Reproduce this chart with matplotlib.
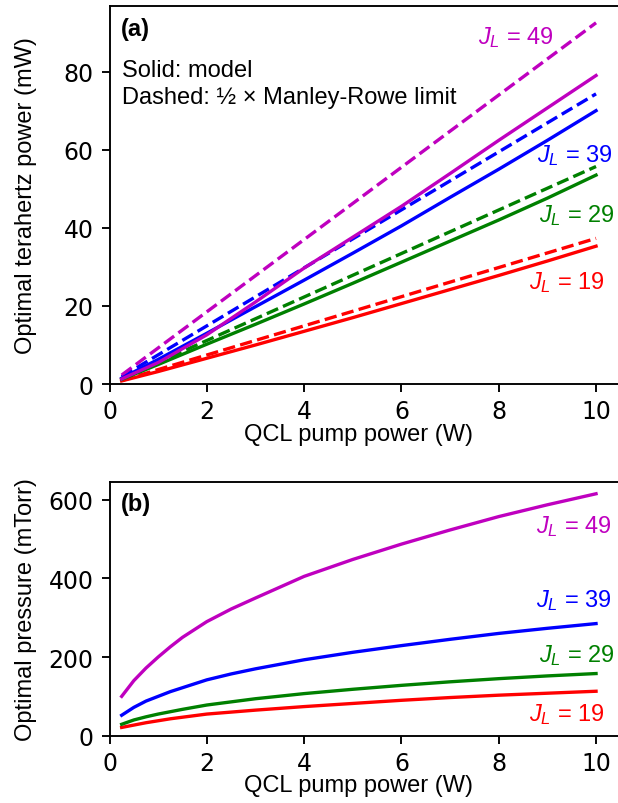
import numpy as np
import matplotlib
matplotlib.use('Agg')
import matplotlib.pyplot as plt

plt.rcParams['mathtext.fontset'] = 'custom'
plt.rcParams['mathtext.rm'] = 'Liberation Sans'
plt.rcParams['mathtext.it'] = 'Liberation Sans:italic'
plt.rcParams['font.size'] = 17
plt.rcParams['axes.linewidth'] = 1.36
plt.rcParams['xtick.major.size'] = 6
plt.rcParams['ytick.major.size'] = 6
plt.rcParams['xtick.major.width'] = 1.36
plt.rcParams['ytick.major.width'] = 1.36
plt.rcParams['xtick.major.pad'] = 5
plt.rcParams['ytick.major.pad'] = 5.5

# ---- data ----
pump = [0.25, 1, 2, 3, 4, 5, 6, 7, 8, 9, 10]  # QCL pump power (W)

# (a) optimal THz power (mW), solid = model
thz_19 = [0.8, 3.2, 6.6, 10.0, 13.5, 17.0, 20.6, 24.2, 27.8, 31.5, 35.3]
thz_29 = [1.2, 5.0, 10.2, 15.3, 20.5, 25.8, 31.2, 36.6, 42.0, 47.6, 53.5]
thz_39 = [1.5, 6.3, 13.0, 19.8, 26.6, 33.5, 40.5, 47.8, 55.0, 62.4, 70.0]
thz_49 = [1.3, 5.5, 12.6, 21.0, 29.7, 37.6, 45.5, 53.9, 62.4, 70.7, 79.0]

# dashed = 1/2 x Manley-Rowe limit
mr_pump = [0.25, 10]
mr_19 = [0.9, 37.3]
mr_29 = [1.4, 55.7]
mr_39 = [1.9, 74.3]
mr_49 = [2.3, 92.5]

# (b) optimal pressure (mTorr)
pump_b = [0.25, 0.5, 0.75, 1, 1.25, 1.5, 2, 2.5, 3, 4, 5, 6, 7, 8, 9, 10]
p_19 = [21, 27, 33, 38, 43, 47, 55, 60, 65, 74, 82, 90, 97, 103, 108, 113]
p_29 = [29, 40, 48, 55, 61, 67, 78, 86, 94, 107, 118, 128, 137, 145, 152, 158]
p_39 = [52, 72, 88, 100, 112, 122, 142, 157, 170, 193, 212, 229, 245, 260, 273, 285]
p_49 = [100, 140, 172, 200, 226, 250, 290, 322, 350, 405, 448, 487, 523, 557, 587, 615]

labels = ['19', '29', '39', '49']
colors = ['r', 'g', 'b', 'm']
lw = 2.4
sans = 'Liberation Sans'

fig = plt.figure(figsize=(6.18, 8.04), dpi=100)

'''
(a) terahertz power
'''
ax1 = fig.add_axes([0.1772, 0.5211, 0.8345, 0.4702])
solid = [thz_19, thz_29, thz_39, thz_49]
dashed = [mr_19, mr_29, mr_39, mr_49]
for i in range(4):
    ax1.plot(mr_pump, dashed[i], color=colors[i], ls='--', lw=lw)
for i in range(4):
    ax1.plot(pump, solid[i], color=colors[i], lw=lw)

ax1.set_xlim(0, 10.6)
ax1.set_ylim(0, 96.8)
ax1.set_yticks([0, 20, 40, 60, 80])
ax1.set_xticks([0, 2, 4, 6, 8, 10])
ax1.set_xlabel('QCL pump power (W)', fontsize=17, family=sans)
ax1.set_ylabel('Optimal terahertz power (mW)', fontsize=17, family=sans)
ax1.xaxis.set_label_coords(0.482, -0.103)
ax1.yaxis.set_label_coords(-0.14, 0.5)

ax1.text(0.022, 0.97, '(a)', transform=ax1.transAxes, fontsize=17,
         fontweight='bold', family=sans, va='top')
ax1.text(0.024, 0.815, 'Solid: model', transform=ax1.transAxes, fontsize=17,
         family=sans, va='baseline')
ax1.text(0.024, 0.743, 'Dashed: \u00bd \u00d7 Manley-Rowe limit', transform=ax1.transAxes,
         fontsize=17, family=sans, va='baseline')

lab_a = [(10.18, 24.5), (10.39, 41.6), (10.35, 57.0), (9.13, 87.3)]
for i in range(4):
    ax1.text(lab_a[i][0], lab_a[i][1], '$J_L$ = ' + labels[i], color=colors[i],
             fontsize=17, family=sans, ha='right', va='baseline')

'''
(b) pressure
'''
ax2 = fig.add_axes([0.1772, 0.0837, 0.8345, 0.3156])
press = [p_19, p_29, p_39, p_49]
for i in range(4):
    ax2.plot(pump_b, press[i], color=colors[i], lw=lw)

ax2.set_xlim(0, 10.6)
ax2.set_ylim(0, 645)
ax2.set_yticks([0, 200, 400, 600])
ax2.set_xticks([0, 2, 4, 6, 8, 10])
ax2.set_xlabel('QCL pump power (W)', fontsize=17, family=sans)
ax2.set_ylabel('Optimal pressure (mTorr)', fontsize=17, family=sans)
ax2.xaxis.set_label_coords(0.482, -0.152)
ax2.yaxis.set_label_coords(-0.14, 0.5)

ax2.text(0.022, 0.96, '(b)', transform=ax2.transAxes, fontsize=17,
         fontweight='bold', family=sans, va='top')

lab_b = [(10.18, 38.6), (10.39, 190), (10.33, 330), (10.33, 517)]
for i in range(4):
    ax2.text(lab_b[i][0], lab_b[i][1], '$J_L$ = ' + labels[i], color=colors[i],
             fontsize=17, family=sans, ha='right', va='baseline')

fig.savefig('out.png', dpi=100)
